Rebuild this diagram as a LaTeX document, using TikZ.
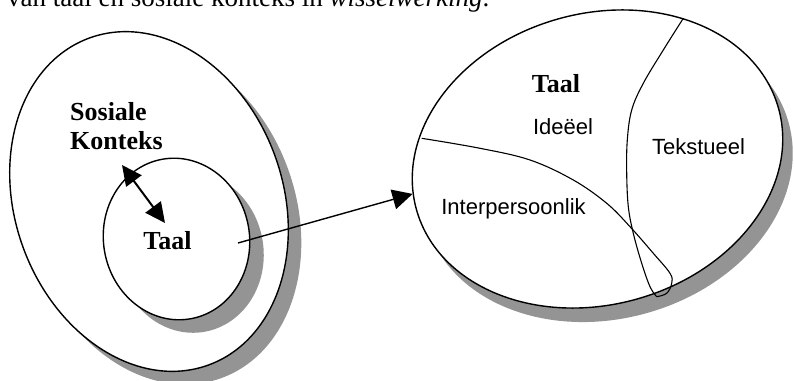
\documentclass[tikz,border=0pt]{standalone}
\usepackage{fontspec}
\setmainfont{Liberation Serif}
\newfontfamily\arialfont{Liberation Sans}
\usetikzlibrary{calc,positioning,arrows.meta,shapes.geometric}

\begin{document}
\begin{tikzpicture}[
  x=1pt, y=1pt,
  ring/.style={draw, ellipse, fill=white, inner sep=0pt, line width=1.4pt},
  shadowring/.style={ellipse, fill=black!42, inner sep=0pt},
  boldlabel/.style={font=\fontsize{26}{29}\selectfont\bfseries, inner sep=0pt},
  partlabel/.style={font=\arialfont\fontsize{22}{26}\selectfont, inner sep=0pt},
  divider/.style={line width=1.1pt},
  arr/.style={-{Triangle[length=20pt, width=20pt]}, line width=1.4pt},
  dblarr/.style={{Triangle[length=20pt, width=19pt]}-{Triangle[length=20pt, width=19pt]}, line width=2pt}
]
\useasboundingbox (0,0) rectangle (794,380);
\clip (0,0) rectangle (794,380);

% caption line, cut off at the top
\node[font=\fontsize{27}{30}\selectfont, inner sep=0pt, anchor=base west] (caption) at (7,373.5)
  {van taal en sosiale konteks in \textit{wisselwerking}.};

% centres of the three rings
\coordinate (outerc) at (149,178.5);
\coordinate (innerc) at (176.5,141);
\coordinate (rightc) at (597.5,221);

% outer ring: sosiale konteks
\node[shadowring, minimum width=268pt, minimum height=348pt, rotate=20] (outershadow) at ($(outerc)+(13,-13)$) {};
\node[ring, minimum width=268pt, minimum height=348pt, rotate=20] (outer) at (outerc) {};

% inner ring: taal
\node[shadowring, minimum width=146pt, minimum height=162pt, rotate=10] (innershadow) at ($(innerc)+(14,-13)$) {};
\node[ring, minimum width=146pt, minimum height=162pt, rotate=10] (inner) at (innerc) {};

% right ring: the three parts of taal
\node[shadowring, minimum width=376pt, minimum height=291pt, rotate=15.7] (rightshadow) at ($(rightc)+(10,-14)$) {};
\node[ring, minimum width=376pt, minimum height=291pt, rotate=15.7] (right) at (rightc) {};

\draw[divider] plot[smooth, tension=0.6] coordinates {
  (421.7,241.7) (480,231.7) (530,220) (573.3,200) (606.7,176.7) (630,153.3)
  (653.3,126.7) (670,106.7) (671.7,96.7) (666.7,86.7) (656.7,83.3)};
\draw[divider] plot[smooth, tension=0.6] coordinates {
  (683.3,361.7) (663.3,330) (643.3,296.7) (631.7,270) (627.3,240) (626.7,206.7)
  (628.3,173.3) (633.3,146.7) (641.7,116.7) (650,93.3) (656.7,83.3)};

% labels
\node[boldlabel, align=left, anchor=north west] (konteks) at (70,278) {Sosiale\\Konteks};
\node[boldlabel, anchor=base] (taalin) at (167.5,130) {Taal};
\node[boldlabel, anchor=base] (taalright) at (556,287) {Taal};
\node[partlabel, anchor=base] (ideeel) at (563,245) {Ideëel};
\node[partlabel, anchor=base] (tekstueel) at (698.5,225) {Tekstueel};
\node[partlabel, anchor=base] (interpersoonlik) at (513.5,165) {Interpersoonlik};

% connectors
\coordinate (ktip) at (122,215);
\coordinate (ttip) at (165,157);
\coordinate (from) at (238,137);
\draw[dblarr] (ktip) -- (ttip);
\draw[arr] (from) -- (right.175);
\end{tikzpicture}
\end{document}
